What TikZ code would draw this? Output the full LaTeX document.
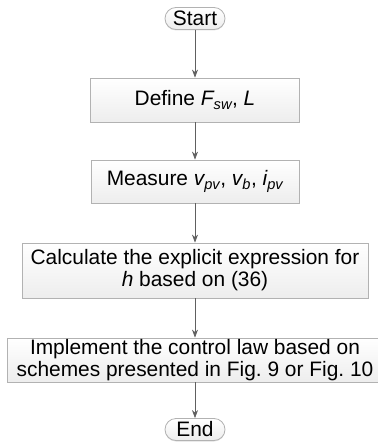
\documentclass[tikz,border=0pt]{standalone}
\usepackage{fontspec}
\setmainfont{Liberation Sans}
\usetikzlibrary{arrows.meta,shadows}
\begin{document}
\begin{tikzpicture}[x=1pt,y=1pt,
  stepbox/.style={draw=gray!60, line width=0.8pt, top color=white, bottom color=gray!14,
    inner sep=0pt, align=center, font=\fontsize{20.9}{22}\selectfont,
    drop shadow={shadow xshift=0pt, shadow yshift=-1pt, opacity=0.25}},
  pill/.style={stepbox, rounded corners=11pt, minimum width=60pt, minimum height=22pt},
  arr/.style={draw=gray!75!black, line width=0.7pt, -{Stealth[length=8pt,width=6pt,inset=2.5pt]}}]
\useasboundingbox (0,0) rectangle (377,-446);
\node[pill] (start) at (195,-18.5) {Start};
\node[stepbox, minimum width=209pt, minimum height=44pt] (define) at (195,-100)
  {Define {\itshape F}\textsubscript{\itshape sw}, {\itshape L}};
\node[stepbox, minimum width=208pt, minimum height=43pt] (measure) at (195,-181.5)
  {Measure {\itshape v}\textsubscript{\itshape pv}, {\itshape v}\textsubscript{\itshape b}, {\itshape i}\textsubscript{\itshape pv}};
\node[stepbox, minimum width=346pt, minimum height=55pt] (calc) at (195,-270.5)
  {Calculate the explicit expression for\\{\itshape h} based on (36)};
\node[stepbox, minimum width=376pt, minimum height=44pt] (impl) at (195,-360)
  {Implement the control law based on\\schemes presented in Fig.~9 or Fig.~10};
\node[pill] (end) at (195,-429.5) {End};
\draw[arr] (start) -- (define);
\draw[arr] (define) -- (measure);
\draw[arr] (measure) -- (calc);
\draw[arr] (calc) -- (impl);
\draw[arr] (impl) -- (end);
\end{tikzpicture}
\end{document}
